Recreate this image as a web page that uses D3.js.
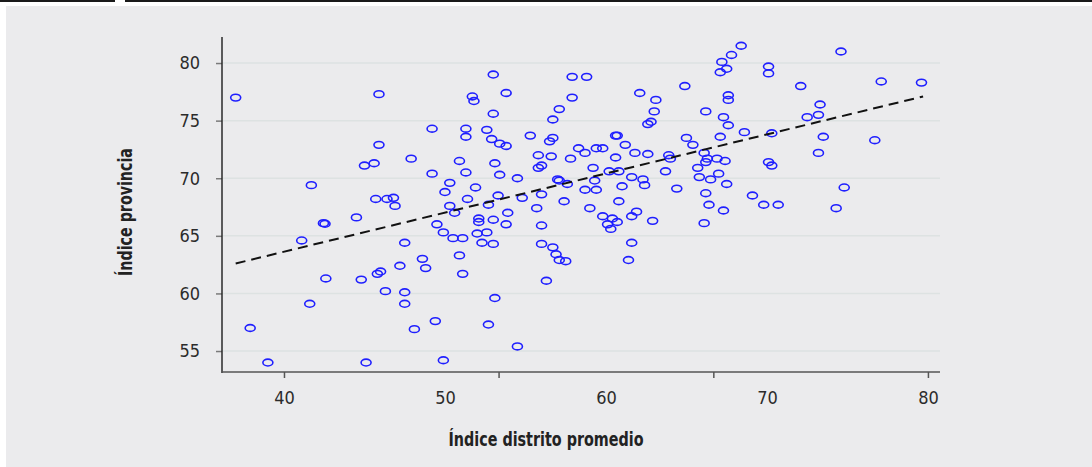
<!DOCTYPE html>
<html>
<head>
<meta charset="utf-8">
<script src="https://cdn.jsdelivr.net/npm/d3@7/dist/d3.min.js"></script>
<style>
  html, body { margin: 0; padding: 0; background: #ffffff; }
  #chart text { font-family: "DejaVu Sans Condensed", "Liberation Sans Narrow", "Roboto", sans-serif; font-stretch: condensed; }
</style>
</head>
<body>
<div id="chart"></div>
<script>
// -------------------------------------------------------------------------
// Data

// x: Índice distrito promedio
const distrito = [
  37.0, 45.9, 53.0, 51.7, 51.8, 53.0, 49.2, 51.3, 51.3, 52.6, 52.9, 53.4, 45.9, 47.9, 45.6, 45.0,
  50.9, 51.3, 53.1, 49.2, 53.4, 50.3, 41.7, 51.9, 50.0, 53.3, 45.7, 46.4, 46.8, 46.9, 51.4, 50.3,
  52.7, 50.6, 42.45, 42.55, 44.5, 49.5, 52.1, 52.1, 53.0, 49.9, 50.5, 51.1, 52.0, 52.6, 52.3, 53.0,
  41.1, 47.5, 48.6, 48.8, 47.2, 50.9, 51.1, 42.6, 44.8, 45.8, 46.0, 46.3, 47.5, 47.5, 41.6, 53.1,
  37.9, 48.1, 49.4, 52.7, 39.0, 45.1, 49.9, 53.8, 53.8, 54.5, 55.3, 57.9, 58.8, 57.9, 57.1, 56.7,
  56.7, 56.5, 55.8, 56.6, 56.0, 55.8, 54.8, 56.0, 57.0, 57.1, 57.6, 57.4, 55.7, 53.9, 53.8, 56.0,
  58.3, 58.7, 59.4, 59.8, 57.8, 59.2, 60.6, 60.7, 61.2, 60.6, 61.8, 62.6, 60.2, 60.8, 59.3, 61.6,
  62.3, 61.0, 62.4, 58.7, 59.4, 59.0, 60.8, 59.8, 60.4, 60.7, 60.1, 60.3, 61.9, 61.6, 62.9, 62.1,
  63.1, 63.0, 62.8, 62.6, 64.9, 63.7, 63.9, 64.0, 64.4, 65.0, 65.4, 66.2, 66.1, 66.3, 66.2, 65.7,
  65.8, 66.5, 66.2, 66.4, 66.1, 66.9, 67.0, 67.4, 67.5, 67.3, 67.1, 67.6, 67.3, 67.6, 67.6, 67.2,
  67.1, 67.5, 67.8, 68.4, 68.6, 69.1, 69.8, 70.7, 70.1, 70.1, 70.3, 70.1, 70.3, 74.6, 72.1, 77.1,
  79.6, 73.3, 72.5, 73.2, 73.5, 76.7, 73.2, 74.8, 74.3, 56.0, 56.7, 56.9, 57.1, 57.5, 56.3, 61.6,
  61.4, 54.5
];

// y: Índice provincia
const provincia = [
  77.0, 77.3, 79.0, 77.1, 76.7, 75.6, 74.3, 74.3, 73.6, 74.2, 73.4, 73.0, 72.9, 71.7, 71.3, 71.1,
  71.5, 70.5, 71.3, 70.4, 70.3, 69.6, 69.4, 69.2, 68.8, 68.5, 68.2, 68.2, 68.3, 67.6, 68.2, 67.6,
  67.7, 67.0, 66.1, 66.05, 66.6, 66.0, 66.5, 66.2, 66.4, 65.3, 64.8, 64.8, 65.2, 65.3, 64.4, 64.3,
  64.6, 64.4, 63.0, 62.2, 62.4, 63.3, 61.7, 61.3, 61.2, 61.7, 61.9, 60.2, 60.1, 59.1, 59.1, 59.6,
  57.0, 56.9, 57.6, 57.3, 54.0, 54.0, 54.2, 77.4, 72.8, 70.0, 73.7, 78.8, 78.8, 77.0, 76.0, 75.1,
  73.5, 73.2, 72.0, 71.9, 71.1, 70.9, 68.3, 68.6, 69.9, 69.8, 69.5, 68.0, 67.4, 67.0, 66.0, 65.9,
  72.6, 72.2, 72.6, 72.6, 71.7, 70.9, 73.7, 73.7, 72.9, 71.8, 72.2, 72.1, 70.6, 70.6, 69.8, 70.1,
  69.9, 69.3, 69.4, 69.0, 69.0, 67.4, 68.0, 66.7, 66.5, 66.2, 66.0, 65.6, 67.1, 66.7, 66.3, 77.4,
  76.8, 75.8, 74.9, 74.7, 78.0, 70.6, 72.0, 71.7, 69.1, 73.5, 72.9, 75.8, 72.2, 71.7, 71.4, 70.9,
  70.1, 69.9, 68.7, 67.7, 66.1, 71.7, 70.4, 71.5, 69.5, 67.2, 73.6, 74.6, 75.3, 77.2, 76.8, 80.1,
  79.2, 79.5, 80.7, 81.5, 74.0, 68.5, 67.7, 67.7, 79.7, 79.1, 73.9, 71.4, 71.1, 81.0, 78.0, 78.4,
  78.3, 76.4, 75.3, 75.5, 73.6, 73.3, 72.2, 69.2, 67.4, 64.3, 64.0, 63.4, 62.9, 62.8, 61.1, 64.4,
  62.9, 55.4
];

// fitted line (dashed), end points
const lineX = [37.0, 79.7];
const lineY = [62.6, 77.1];

// axes
const xTickLabels = [40, 50, 60, 70, 80];
const xTickMarks = [40, 53.33, 66.67, 80];
const yTickLabels = [55, 60, 65, 70, 75, 80];

const xTitle = 'Índice distrito promedio';
const yTitle = 'Índice provincia';

// -------------------------------------------------------------------------
// Layout

const width = 1092;
const height = 467;
const plot = { left: 222, right: 940, top: 37, bottom: 372 };

const svg = d3.select('#chart').append('svg')
  .attr('width', width)
  .attr('height', height);

// frame: black rule on top, grey panel
svg.append('rect')
  .attr('x', 6).attr('y', 6)
  .attr('width', width - 6).attr('height', height - 6)
  .attr('fill', '#ebebed');
svg.append('line')
  .attr('x1', 0).attr('x2', 115).attr('y1', 1).attr('y2', 1)
  .attr('stroke', '#1a1a1a').attr('stroke-width', 2);
svg.append('line')
  .attr('x1', 125).attr('x2', width).attr('y1', 1).attr('y2', 1)
  .attr('stroke', '#1a1a1a').attr('stroke-width', 2);

const x = d3.scaleLinear()
  .domain([36.15, 80.75])
  .range([plot.left, plot.right]);

const y = d3.scaleLinear()
  .domain([53.18, 82.26])
  .range([plot.bottom, plot.top]);

// gridlines
svg.append('g')
  .selectAll('line')
  .data(yTickLabels)
  .enter().append('line')
  .attr('x1', plot.left)
  .attr('x2', plot.right)
  .attr('y1', (d) => y(d))
  .attr('y2', (d) => y(d))
  .attr('stroke', '#dde2e2')
  .attr('stroke-width', 1.5);

// y axis
const yAxis = svg.append('g')
  .attr('transform', `translate(${plot.left},0)`)
  .call(d3.axisLeft(y).tickValues(yTickLabels).tickSize(6).tickPadding(16));
yAxis.select('.domain').remove();
yAxis.selectAll('.tick line').attr('stroke', '#7a7a7a').attr('stroke-width', 1.5);
yAxis.selectAll('.tick text')
  .attr('font-size', 18)
  .attr('fill', '#2b2b2b');

svg.append('line')
  .attr('x1', plot.left).attr('x2', plot.left)
  .attr('y1', plot.top).attr('y2', plot.bottom + 1)
  .attr('stroke', '#2a2a2a').attr('stroke-width', 1.5);

// x axis: tick marks and labels do not line up in the original
const xMarks = svg.append('g')
  .attr('transform', `translate(0,${plot.bottom})`)
  .call(d3.axisBottom(x).tickValues(xTickMarks).tickSize(6).tickFormat(''));
xMarks.select('.domain').remove();
xMarks.selectAll('.tick line').attr('stroke', '#555').attr('stroke-width', 1.5);

const xLabels = svg.append('g')
  .attr('transform', `translate(0,${plot.bottom})`)
  .call(d3.axisBottom(x).tickValues(xTickLabels).tickSize(0).tickPadding(19));
xLabels.select('.domain').remove();
xLabels.selectAll('.tick text')
  .attr('font-size', 18)
  .attr('fill', '#2b2b2b');

svg.append('line')
  .attr('x1', plot.left).attr('x2', plot.right)
  .attr('y1', plot.bottom).attr('y2', plot.bottom)
  .attr('stroke', '#555').attr('stroke-width', 1.5);

// axis titles (condensed to the original widths)
svg.append('text')
  .attr('x', 546)
  .attr('y', 446)
  .attr('text-anchor', 'middle')
  .attr('font-size', 19)
  .attr('font-weight', 'bold')
  .attr('fill', '#222')
  .attr('textLength', 195)
  .attr('lengthAdjust', 'spacingAndGlyphs')
  .text(xTitle);

svg.append('text')
  .attr('transform', 'translate(132,212) rotate(-90)')
  .attr('text-anchor', 'middle')
  .attr('font-size', 19)
  .attr('font-weight', 'bold')
  .attr('fill', '#222')
  .attr('textLength', 128)
  .attr('lengthAdjust', 'spacingAndGlyphs')
  .text(yTitle);

// points
const points = distrito.map((d, i) => ({ x: d, y: provincia[i] }));

svg.append('g')
  .selectAll('ellipse')
  .data(points)
  .enter().append('ellipse')
  .attr('cx', (d) => x(d.x))
  .attr('cy', (d) => y(d.y))
  .attr('rx', 5)
  .attr('ry', 3.4)
  .attr('fill', 'none')
  .attr('stroke', '#1f1fff')
  .attr('stroke-width', 1.6);

// fitted line
svg.append('line')
  .attr('x1', x(lineX[0])).attr('y1', y(lineY[0]))
  .attr('x2', x(lineX[1])).attr('y2', y(lineY[1]))
  .attr('stroke', '#111')
  .attr('stroke-width', 2)
  .attr('stroke-dasharray', '10,6');
</script>
</body>
</html>
